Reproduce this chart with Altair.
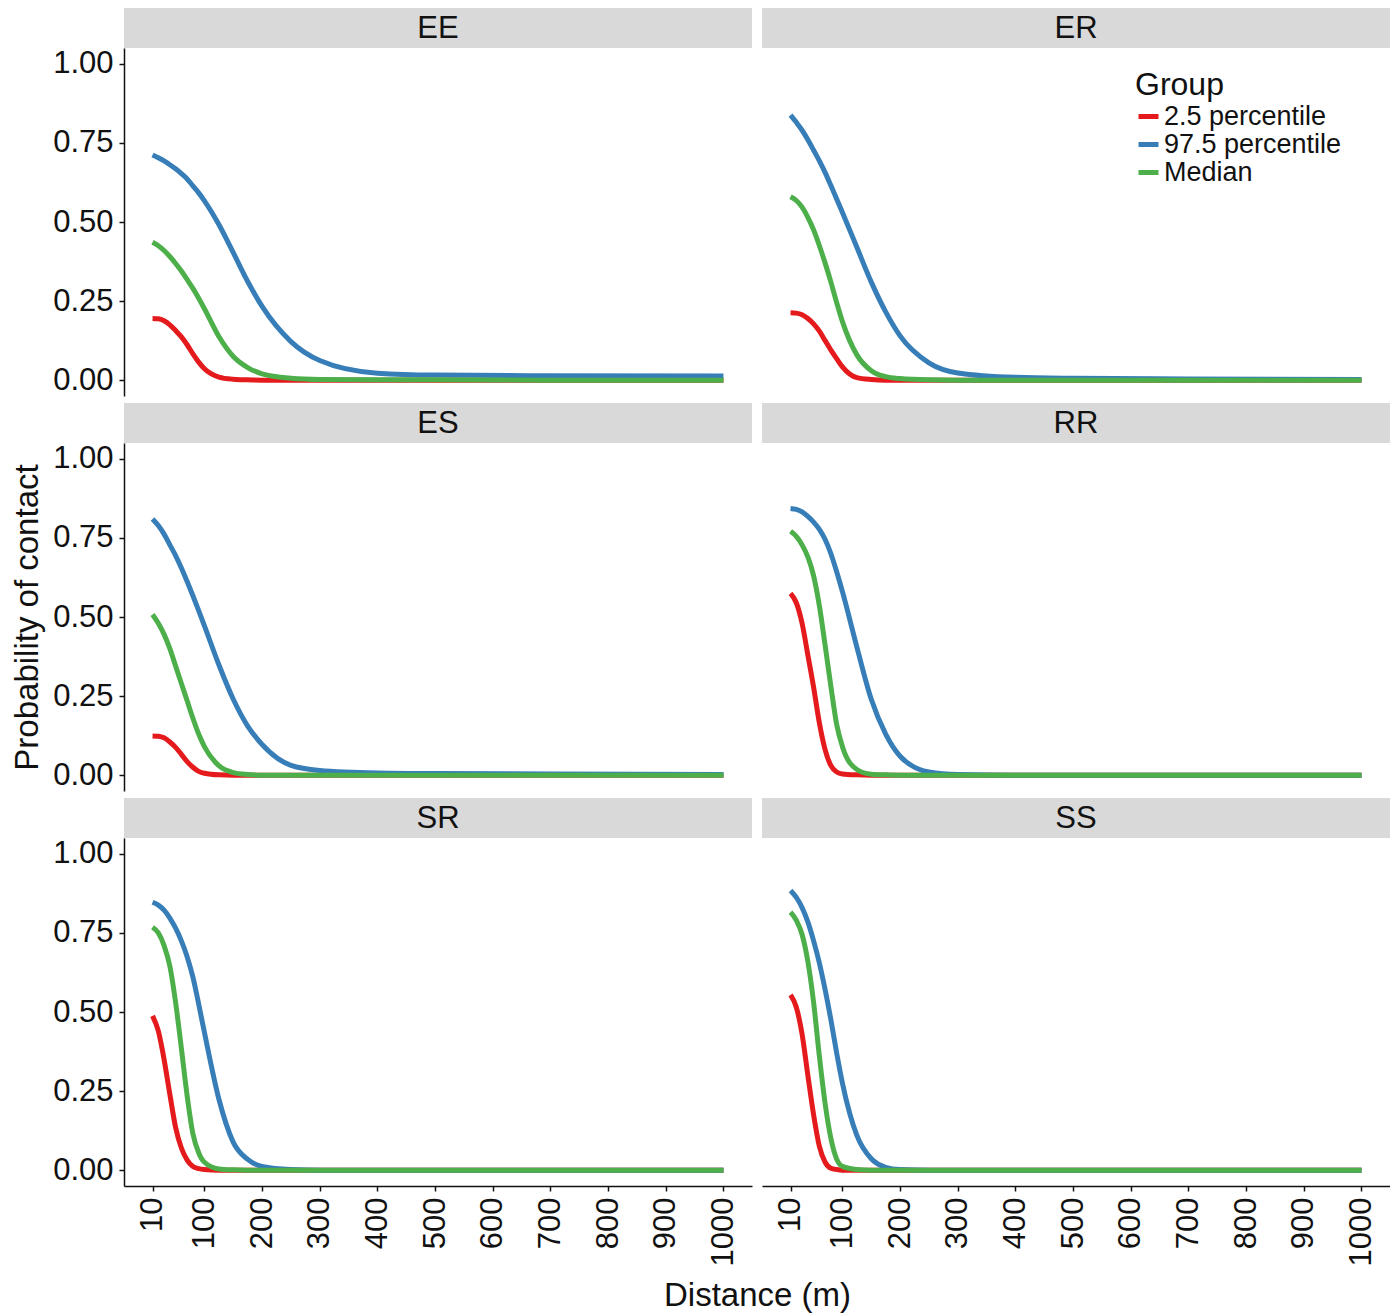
import altair as alt
import pandas as pd

DIST = [10, 20, 30, 40, 50, 60, 70, 80, 90, 100, 125, 150, 175, 200, 250, 300, 400, 500, 700, 1000]
X_TICKS = [10, 100, 200, 300, 400, 500, 600, 700, 800, 900, 1000]
Y_TICKS = [0, 0.25, 0.5, 0.75, 1.0]
PANELS = ["EE", "ER", "ES", "RR", "SR", "SS"]
GROUPS = ["2.5 percentile", "97.5 percentile", "Median"]
COLORS = ["#e41a1c", "#377eb8", "#4daf4a"]

# probability of contact at DIST (low, high, median)
ee_low = [0.195, 0.194, 0.188, 0.175, 0.157, 0.137, 0.112, 0.083, 0.057, 0.036, 0.010, 0.003, 0.001, 0, 0, 0, 0, 0, 0, 0]
ee_high = [0.712, 0.703, 0.693, 0.681, 0.668, 0.653, 0.636, 0.614, 0.592, 0.567, 0.492, 0.403, 0.312, 0.233, 0.122, 0.062, 0.022, 0.016, 0.014, 0.013]
ee_med = [0.436, 0.425, 0.410, 0.391, 0.369, 0.345, 0.318, 0.290, 0.259, 0.226, 0.138, 0.075, 0.040, 0.020, 0.006, 0.002, 0.001, 0.001, 0, 0]

er_low = [0.213, 0.212, 0.207, 0.195, 0.178, 0.155, 0.125, 0.095, 0.068, 0.042, 0.008, 0.002, 0, 0, 0, 0, 0, 0, 0, 0]
er_high = [0.838, 0.815, 0.790, 0.760, 0.727, 0.693, 0.656, 0.615, 0.573, 0.530, 0.420, 0.310, 0.216, 0.140, 0.055, 0.023, 0.009, 0.006, 0.004, 0.002]
er_med = [0.580, 0.568, 0.547, 0.515, 0.475, 0.425, 0.370, 0.310, 0.245, 0.185, 0.080, 0.030, 0.011, 0.005, 0.001, 0, 0, 0, 0, 0]

es_low = [0.124, 0.123, 0.118, 0.105, 0.088, 0.066, 0.043, 0.025, 0.012, 0.006, 0.001, 0, 0, 0, 0, 0, 0, 0, 0, 0]
es_high = [0.810, 0.789, 0.762, 0.728, 0.694, 0.655, 0.612, 0.567, 0.520, 0.472, 0.349, 0.240, 0.155, 0.097, 0.031, 0.015, 0.007, 0.005, 0.004, 0.002]
es_med = [0.508, 0.480, 0.445, 0.400, 0.345, 0.290, 0.235, 0.180, 0.130, 0.090, 0.030, 0.008, 0.002, 0, 0, 0, 0, 0, 0, 0]

rr_low = [0.575, 0.545, 0.480, 0.380, 0.278, 0.165, 0.080, 0.030, 0.010, 0.004, 0.001, 0, 0, 0, 0, 0, 0, 0, 0, 0]
rr_high = [0.843, 0.840, 0.832, 0.818, 0.800, 0.777, 0.745, 0.700, 0.643, 0.580, 0.405, 0.240, 0.130, 0.060, 0.010, 0.002, 0, 0, 0, 0]
rr_med = [0.771, 0.755, 0.728, 0.690, 0.630, 0.535, 0.410, 0.280, 0.160, 0.090, 0.018, 0.003, 0.001, 0, 0, 0, 0, 0, 0, 0]

sr_low = [0.488, 0.440, 0.350, 0.240, 0.135, 0.070, 0.032, 0.012, 0.005, 0.002, 0, 0, 0, 0, 0, 0, 0, 0, 0, 0]
sr_high = [0.847, 0.838, 0.822, 0.797, 0.765, 0.725, 0.675, 0.610, 0.525, 0.435, 0.225, 0.088, 0.034, 0.012, 0.002, 0, 0, 0, 0, 0]
sr_med = [0.768, 0.750, 0.710, 0.645, 0.530, 0.385, 0.235, 0.115, 0.055, 0.025, 0.004, 0.001, 0, 0, 0, 0, 0, 0, 0, 0]

ss_low = [0.554, 0.515, 0.430, 0.300, 0.175, 0.075, 0.025, 0.006, 0.002, 0, 0, 0, 0, 0, 0, 0, 0, 0, 0, 0]
ss_high = [0.884, 0.862, 0.830, 0.785, 0.725, 0.655, 0.570, 0.475, 0.370, 0.275, 0.110, 0.036, 0.009, 0.002, 0, 0, 0, 0, 0, 0]
ss_med = [0.816, 0.790, 0.745, 0.660, 0.530, 0.360, 0.210, 0.100, 0.035, 0.012, 0.002, 0, 0, 0, 0, 0, 0, 0, 0, 0]

SERIES = {
    "EE": [ee_low, ee_high, ee_med],
    "ER": [er_low, er_high, er_med],
    "ES": [es_low, es_high, es_med],
    "RR": [rr_low, rr_high, rr_med],
    "SR": [sr_low, sr_high, sr_med],
    "SS": [ss_low, ss_high, ss_med],
}

PW, PH, SH, GAP = 628, 348, 40, 7
FONT = "Liberation Sans"
INK = "#111111"


def panel_data(name):
    rows = []
    for g, ys in zip(GROUPS, SERIES[name]):
        for d, p in zip(DIST, ys):
            rows.append({"distance": d, "prob": p, "group": g})
    return pd.DataFrame(rows)


def strip(name, top):
    base = alt.Chart(pd.DataFrame({"panel": [name]}))
    box = base.mark_rect(color="#d9d9d9").encode(
        x=alt.value(0), x2=alt.value(PW), y=alt.value(top), y2=alt.value(top + SH))
    label = base.mark_text(font=FONT, fontSize=31, color=INK).encode(
        x=alt.value(PW / 2), y=alt.value(top + SH / 2 + 1), text="panel:N")
    return alt.layer(box, label).properties(width=PW, height=top + SH)


def panel(idx):
    name = PANELS[idx]
    col, row = idx % 2, idx // 2

    x_kw = dict(scale=alt.Scale(domain=[-39.5, 1049.5], nice=False, zero=False), title=None)
    if row == 2:
        ax = dict(values=X_TICKS, format="d", labelAngle=270, labelPadding=6)
        if col == 0:
            x_kw["title"] = "Distance (m)"
            ax.update(titleX=PW + 5, titleAlign="center", titlePadding=14)
        x_kw["axis"] = alt.Axis(**ax)
    else:
        x_kw["axis"] = None

    y_kw = dict(scale=alt.Scale(domain=[-0.05, 1.05], nice=False, zero=False), title=None)
    if col == 0:
        y_kw["axis"] = alt.Axis(values=Y_TICKS, format=".2f", labelPadding=6)
        if row == 1:
            y_kw["title"] = "Probability of contact"
    else:
        y_kw["axis"] = None

    c_kw = dict(scale=alt.Scale(domain=GROUPS, range=COLORS), sort=GROUPS)
    if name == "ER":
        c_kw["legend"] = alt.Legend(
            title="Group", orient="none", legendX=373, legendY=22, padding=0,
            titleFontSize=32, titleFont=FONT, titleFontWeight="normal", titleColor=INK,
            titlePadding=1, labelFontSize=27, labelFont=FONT, labelColor=INK,
            labelLimit=0, labelOffset=2, symbolType="stroke", symbolSize=400,
            symbolStrokeWidth=5, rowPadding=0)
    else:
        c_kw["legend"] = None

    return alt.Chart(panel_data(name)).mark_line(
        strokeWidth=5, interpolate="monotone").encode(
        x=alt.X("distance:Q", **x_kw),
        y=alt.Y("prob:Q", **y_kw),
        color=alt.Color("group:N", **c_kw),
    ).properties(width=PW, height=PH)


items = []
for r in range(3):
    top = 0 if r == 0 else GAP
    items += [strip(PANELS[2 * r], top), strip(PANELS[2 * r + 1], top)]
    items += [panel(2 * r), panel(2 * r + 1)]

chart = alt.concat(
    *items, columns=2, spacing={"row": 0, "column": 10}, bounds="flush", align="each"
).resolve_scale(color="independent").properties(
    padding={"left": 3, "top": 0, "right": 0, "bottom": 0}, background="white"
).configure_view(stroke=None).configure_axis(
    labelFont=FONT, titleFont=FONT, labelFontSize=31, titleFontSize=33,
    labelColor=INK, titleColor=INK, titleFontWeight="normal",
    domainColor=INK, domainWidth=1.5, tickColor=INK, tickWidth=1.5, tickSize=5,
    grid=False, titlePadding=8
)

chart.save("out.html", embed_options={"renderer": "svg", "actions": False})
